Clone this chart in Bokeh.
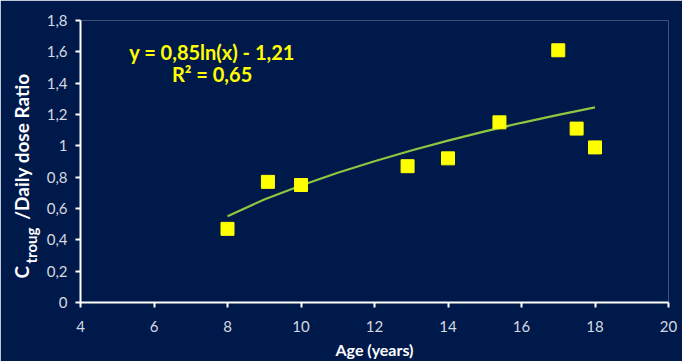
from bokeh.plotting import figure
from bokeh.models import Range1d, Label, FixedTicker, CustomJSTickFormatter
from bokeh.embed import file_html
from bokeh.resources import INLINE
import math

# Data
age = [8, 9.1, 10, 12.9, 14, 15.4, 17, 17.5, 18]
ratio = [0.47, 0.77, 0.75, 0.87, 0.92, 1.15, 1.61, 1.11, 0.99]

trend_x = [8, 9, 10, 11, 12, 13, 14, 15, 16, 17, 18]
trend_y = [0.55, 0.658, 0.747, 0.828, 0.902, 0.970, 1.033, 1.092, 1.147, 1.198, 1.245]

x_ticks = [4, 6, 8, 10, 12, 14, 16, 18, 20]
y_ticks = [0, 0.2, 0.4, 0.6, 0.8, 1.0, 1.2, 1.4, 1.6, 1.8]

equation = "y = 0,85ln(x) - 1,21"
r2 = "R² = 0,65"
y_title_main = "C" + "\u00a0" * 10 + "/Daily dose Ratio"
y_title_sub = "troug"

BG = "#00194b"
FONT = "Lato"

p = figure(width=682, height=361, output_backend="svg", toolbar_location=None,
           x_range=Range1d(4, 20), y_range=Range1d(0, 1.8),
           min_border_left=80, min_border_right=14, min_border_top=20, min_border_bottom=58,
           background_fill_color=BG, border_fill_color=BG, outline_line_color=None)
p.grid.visible = False

for ax in (p.xaxis[0], p.yaxis[0]):
    ax.axis_line_color = "white"
    ax.axis_line_width = 2
    ax.major_tick_line_color = "white"
    ax.major_tick_line_width = 2
    ax.major_tick_out = 5
    ax.major_tick_in = 0
    ax.minor_tick_line_color = None
    ax.major_label_text_color = "#d6d9e0"
    ax.major_label_text_font = FONT
    ax.major_label_text_font_size = "15px"
p.xaxis[0].major_label_standoff = 13
p.yaxis[0].major_label_standoff = 8

p.xaxis[0].ticker = FixedTicker(ticks=x_ticks)
p.yaxis[0].ticker = FixedTicker(ticks=y_ticks)
p.yaxis[0].formatter = CustomJSTickFormatter(code="""
    const v = Math.round(tick * 10) / 10;
    return String(v).replace('.', ',');
""")
p.xaxis[0].axis_label = "Age (years)"
p.xaxis[0].axis_label_text_color = "white"
p.xaxis[0].axis_label_text_font = FONT
p.xaxis[0].axis_label_text_font_style = "bold"
p.xaxis[0].axis_label_text_font_size = "16px"
p.xaxis[0].axis_label_standoff = 5

p.line(trend_x, trend_y, line_color="#8dc63f", line_width=2.2)
p.scatter(age, ratio, marker="square", size=13, fill_color="#ffff00", line_color="#ffff00")

# equation text
p.add_layout(Label(x=7.58, y=1.60, text=equation, text_align="center", text_baseline="middle",
                   text_color="#ffff00", text_font=FONT, text_font_style="bold", text_font_size="20px"))
p.add_layout(Label(x=7.58, y=1.46, text=r2, text_align="center", text_baseline="middle",
                   text_color="#ffff00", text_font=FONT, text_font_style="bold", text_font_size="20px"))

# y axis title with subscript, drawn rotated in the left side panel (canvas units)
ang = math.pi / 2
common = dict(angle=ang, text_align="left", text_baseline="middle", text_color="white",
              text_font=FONT, text_font_style="bold", x_units="canvas", y_units="canvas")
p.add_layout(Label(x=21, y=278, text=y_title_main, text_font_size="19px", **common), "left")
p.add_layout(Label(x=30, y=263, text=y_title_sub, text_font_size="15px", **common), "left")

html = file_html(p, INLINE)
html = html.replace("<body>", '<body style="background-color:%s; margin:0;">' % BG, 1)
open("out.html", "w").write(html)
